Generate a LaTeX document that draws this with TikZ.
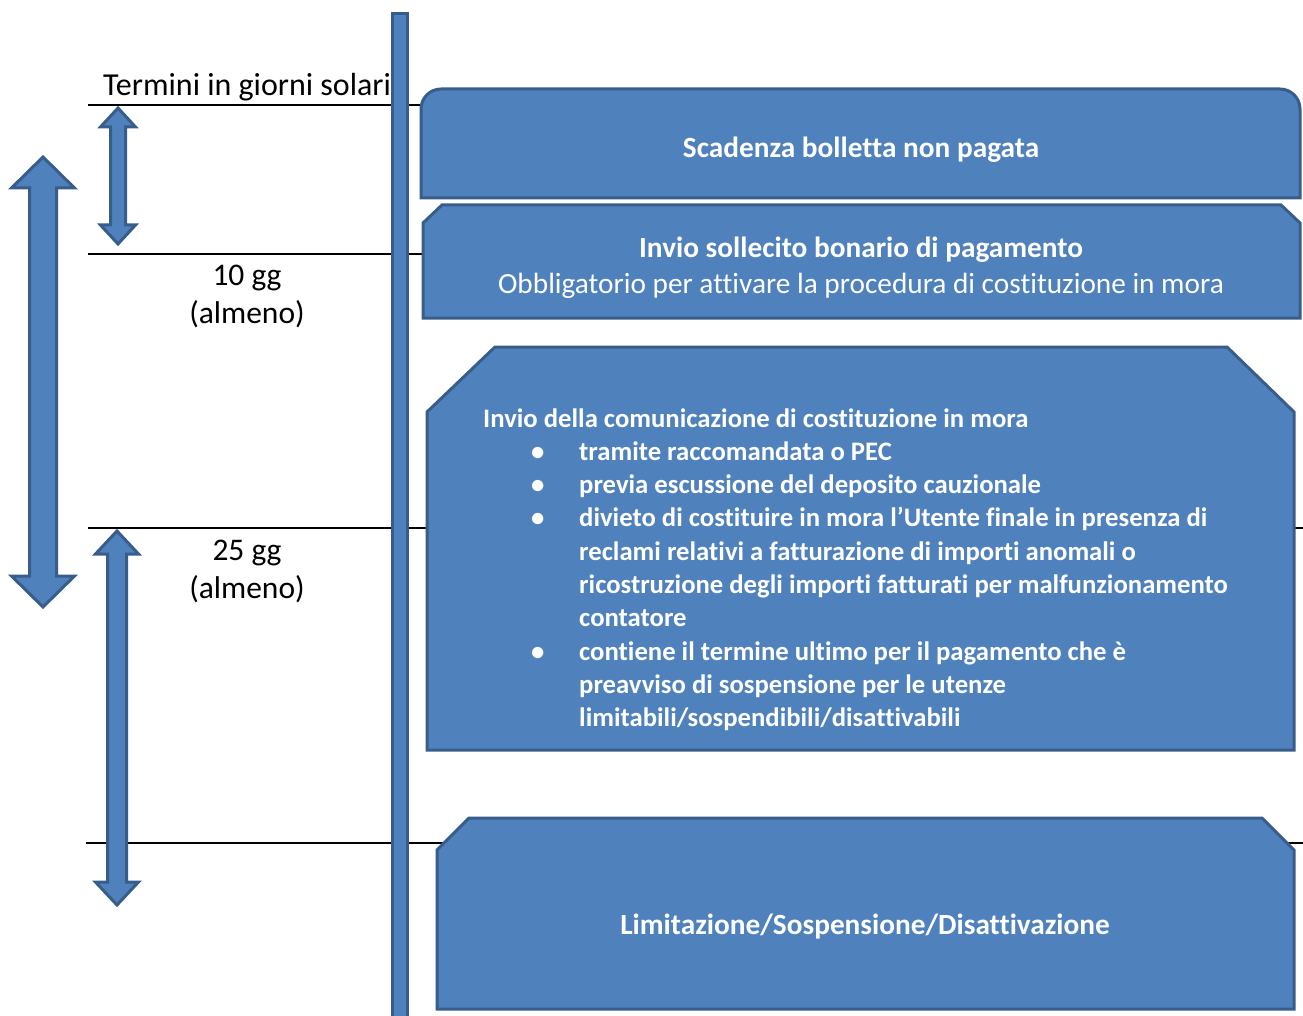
\documentclass[tikz,border=0pt]{standalone}
\usepackage{fontspec}
\setmainfont{Carlito}[Ligatures={NoCommon,NoRequired,NoContextual},RawFeature={-liga;-clig;-calt;-dlig}]
\definecolor{boxfill}{HTML}{4F81BD}
\definecolor{boxline}{HTML}{385D8A}
\newcommand\dblarr[6]{% cx, ytop, ybot, shaft half, head half, head length
  \path[blk] (#1,#2) -- ({#1+#5},{#2+#6}) -- ({#1+#4},{#2+#6}) -- ({#1+#4},{#3-#6})
    -- ({#1+#5},{#3-#6}) -- (#1,#3) -- ({#1-#5},{#3-#6}) -- ({#1-#4},{#3-#6})
    -- ({#1-#4},{#2+#6}) -- ({#1-#5},{#2+#6}) -- cycle;}
\begin{document}
\begin{tikzpicture}[x=1pt,y=-1pt,
  blk/.style={fill=boxfill,draw=boxline,line width=3pt,line join=miter},
  rule/.style={draw=black,line width=1.5pt},
  lbl/.style={inner sep=0pt,anchor=base,text=black,font=\fontsize{31.5}{38}\selectfont},
  boxtxt/.style={inner sep=0pt,anchor=base,text=white,font=\fontsize{29.3}{35}\selectfont}]
\useasboundingbox (0,0) rectangle (1303,1016);

% horizontal rules
\draw[rule] (88,105) -- (421,105);
\draw[rule] (88,254) -- (423,254);
\draw[rule] (88,528) -- (1303,528);
\draw[rule] (86,843) -- (1303,843);

% vertical time bar
\path[blk] (392.5,1020) -- (392.5,13.5) -- (407.5,13.5) -- (407.5,1020);

% box 1: rounded top corners
\path[blk] (421,198) -- (421,109) .. controls (421,98) and (430,89) .. (441,89)
  -- (1280,89) .. controls (1291,89) and (1300,98) .. (1300,109) -- (1300,198) -- cycle;
% box 2: snipped top corners
\path[blk] (423,318) -- (423,223) -- (442,205) -- (1281,205) -- (1300,223) -- (1300,318) -- cycle;
% box 3
\path[blk] (427,750) -- (427,412) -- (495,347) -- (1227,347) -- (1294,412) -- (1294,750) -- cycle;
% box 4
\path[blk] (437,1009) -- (437,850) -- (469,818) -- (1262,818) -- (1294,850) -- (1294,1009) -- cycle;

% arrows
\dblarr{43}{157}{607}{13.5}{31.5}{31}
\dblarr{118}{108}{244}{7.5}{17.5}{19}
\dblarr{117}{531}{905}{9.5}{21.5}{23}

% labels
\node[lbl,anchor=base west,font=\fontsize{32}{38}\selectfont] (title) at (103,96) {Termini in giorni solari};
\node[lbl] (l10a) at (247,285) {10 gg};
\node[lbl] (l10b) at (247,323) {(almeno)};
\node[lbl] (l25a) at (247,560) {25 gg};
\node[lbl] (l25b) at (247,598) {(almeno)};

% box texts
\node[boxtxt,font=\fontsize{29.3}{35}\selectfont\bfseries] (t1) at (861,158) {Scadenza bolletta non pagata};
\node[boxtxt,font=\fontsize{29.3}{35}\selectfont\bfseries] (t2a) at (861,258) {Invio sollecito bonario di pagamento};
\node[boxtxt] (t2b) at (861,294) {Obbligatorio per attivare la procedura di costituzione in mora};
\node[boxtxt,anchor=base west,font=\fontsize{26.7}{33.3}\selectfont\bfseries] (t3) at (483,427) {%
\begin{tabular}[t]{@{}l@{}l@{}}
\multicolumn{2}{@{}l@{}}{Invio della comunicazione di costituzione in mora}\\
\makebox[96pt][l]{\hspace*{48pt}\textbullet} & tramite raccomandata o PEC\\
\makebox[96pt][l]{\hspace*{48pt}\textbullet} & previa escussione del deposito cauzionale\\
\makebox[96pt][l]{\hspace*{48pt}\textbullet} & divieto di costituire in mora l’Utente finale in presenza di\\
 & reclami relativi a fatturazione di importi anomali o\\
 & ricostruzione degli importi fatturati per malfunzionamento\\
 & contatore\\
\makebox[96pt][l]{\hspace*{48pt}\textbullet} & contiene il termine ultimo per il pagamento che è\\
 & preavviso di sospensione per le utenze\\
 & limitabili/sospendibili/disattivabili
\end{tabular}};
\node[boxtxt,font=\fontsize{29.3}{35}\selectfont\bfseries] (t4) at (865,934) {Limitazione/Sospensione/Disattivazione};
\end{tikzpicture}
\end{document}
